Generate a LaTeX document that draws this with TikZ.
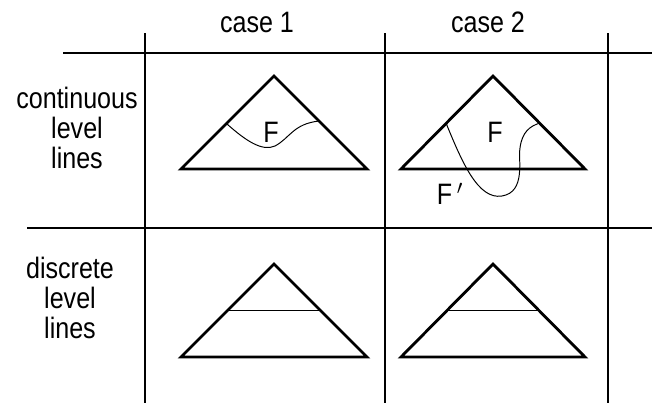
\documentclass[tikz,border=0pt]{standalone}
\usepackage{fontspec}
\setmainfont{Liberation Sans}[FakeStretch=0.85]
\usepackage{tikz}
\usetikzlibrary{positioning}
\tikzset{
  lv diagram/.style={x=0.025cm, y=-0.025cm,
    font=\fontsize{21}{21.5}\selectfont},
  lv grid/.style={draw=black, line width=0.8pt},
  lv tri/.style={draw=black, line width=2pt, line join=miter},
  lv level/.style={draw=black, line width=0.7pt},
  lv label/.style={align=center, inner sep=0pt}
}

\begin{document}
\begin{tikzpicture}[lv diagram]
\useasboundingbox (0,0) rectangle (652,403);
% grid
\draw[lv grid] (63,53) -- (652,53);
\draw[lv grid] (27,228) -- (652,228);
\foreach \gx in {145,385,608}
  \draw[lv grid] (\gx,33) -- (\gx,403);
\node[lv label] (case1) at (257,22) {case 1};
\node[lv label] (case2) at (488,22) {case 2};
\node[lv label] (cont) at (77,128) {continuous\\level\\lines};
\node[lv label] (disc) at (70,298) {discrete\\level\\lines};
% continuous level lines
\draw[lv tri] (181,169) -- (274,76) -- (367,169) -- cycle;
\draw[lv tri] (401,169) -- (493,76) -- (585,169) -- cycle;
\draw[lv level] (227,124) .. controls (245,140) and (262,152) .. (275,146)
  .. controls (290,138) and (293,124) .. (319,121);
\draw[lv level] (446,123) .. controls (462,162) and (478,200) .. (502,196)
  .. controls (526,192) and (518,160) .. (520,148)
  .. controls (522,132) and (530,126) .. (540,123);
\node[lv label] (F1) at (271,132) {F};
\node[lv label] (F2) at (495,132) {F};
\node[lv label] (Fp) at (450,194) {F$\,'$};
% discrete level lines
\draw[lv tri] (181,357) -- (274,264) -- (367,357) -- cycle;
\draw[lv tri] (401,357) -- (493,264) -- (585,357) -- cycle;
\draw[lv level] (227.5,310.5) -- (320.5,310.5);
\draw[lv level] (447,310.5) -- (539,310.5);
\end{tikzpicture}
\end{document}
